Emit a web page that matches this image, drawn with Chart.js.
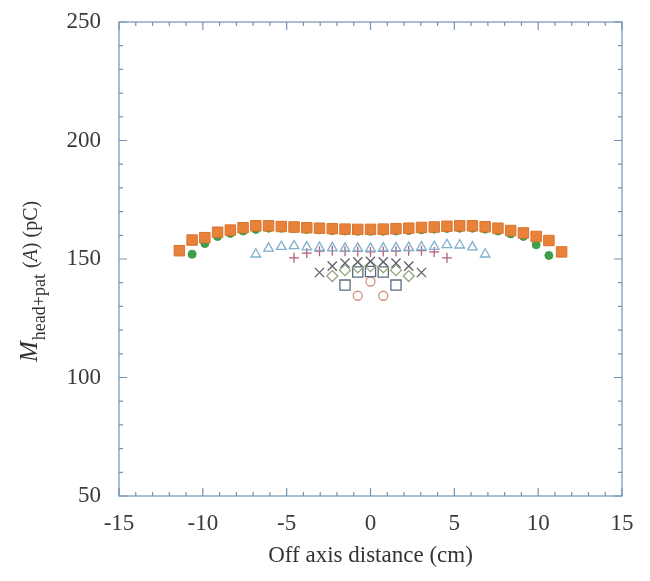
<!DOCTYPE html>
<html>
<head>
<meta charset="utf-8">
<script src="https://cdn.jsdelivr.net/npm/chart.js@4.4.0/dist/chart.umd.min.js"></script>
<style>
html,body{margin:0;padding:0;background:#fff;}
</style>
</head>
<body>
<canvas id="grafico" width="650" height="581"></canvas>
<script>
// posizioni (cm) e valori (pC)
var xQuadPieni = [-11.4,-10.64,-9.88,-9.12,-8.36,-7.6,-6.84,-6.08,-5.32,-4.56,-3.8,-3.04,-2.28,-1.52,-0.76,0,0.76,1.52,2.28,3.04,3.8,4.56,5.32,6.08,6.84,7.6,8.36,9.12,9.88,10.64,11.4];
var yQuadPieni = [153.5,158,159,161.3,162.2,163.2,164,164,163.7,163.5,163.2,163,162.8,162.6,162.5,162.5,162.6,162.8,163,163.3,163.5,163.8,164,164,163.6,163,162,161,159.5,157.8,153];

var xCerchiPieni = [-10.64,-9.88,-9.12,-8.36,-7.6,-6.84,-6.08,-5.32,-4.56,-3.8,-3.04,-2.28,-1.52,-0.76,0,0.76,1.52,2.28,3.04,3.8,4.56,5.32,6.08,6.84,7.6,8.36,9.12,9.88,10.64];
var yCerchiPieni = [152,156.5,159.5,160.8,161.8,162.5,163,163,162.8,162.5,162.3,162,161.8,161.7,161.7,161.7,161.8,162,162.3,162.6,162.9,163,163,162.6,161.8,160.6,159.5,156,151.5];

var xTriangoli = [-6.84,-6.08,-5.32,-4.56,-3.8,-3.04,-2.28,-1.52,-0.76,0,0.76,1.52,2.28,3.04,3.8,4.56,5.32,6.08,6.84];
var yTriangoli = [152,154.5,155.2,155.5,155,154.8,154.7,154.5,154.5,154.5,154.6,154.7,154.8,155,155.2,156,155.8,155,152];

var xCroci = [-4.56,-3.8,-3.04,-2.28,-1.52,-0.76,0,0.76,1.52,2.28,3.04,3.8,4.56];
var yCroci = [150.5,152.5,153.3,153.5,153.3,153.2,153,153.2,153.3,153.5,153.5,153,150.5];

var xIcs = [-3.04,-2.28,-1.52,-0.76,0,0.76,1.52,2.28,3.04];
var yIcs = [144.3,147,148.3,148.8,149,148.8,148.3,147,144.3];

var xRombi = [-2.28,-1.52,-0.76,0,0.76,1.52,2.28];
var yRombi = [142.8,145.3,146.5,147,146.5,145.3,142.8];

var xQuadVuoti = [-1.52,-0.76,0,0.76,1.52];
var yQuadVuoti = [139,144.5,144.7,144.5,139];

var xCerchiVuoti = [-0.76,0,0.76];
var yCerchiVuoti = [134.5,140.5,134.5];

var xTicks = [-15,-10,-5,0,5,10,15];
var yTicks = [50,100,150,200,250];

var coloreAssi = '#7393b5';
var fontSerif = "'Liberation Serif','DejaVu Serif',serif";

function punti(xs, ys){
    var out = [];
    for(let i=0;i<xs.length;i++){
        out.push({x: xs[i], y: ys[i]});
    }
    return out;
}

// cornice con tacche verso l'interno
var tacche = {
    id: 'tacche',
    beforeDatasetsDraw(chart){
        var ctx = chart.ctx;
        var a = chart.chartArea;
        var sx = chart.scales.x, sy = chart.scales.y;
        ctx.save();
        ctx.strokeStyle = coloreAssi;
        ctx.lineWidth = 1.2;
        ctx.strokeRect(a.left, a.top, a.right - a.left, a.bottom - a.top);
        ctx.beginPath();
        for(let v=-15; v<=15; v++){
            var px = sx.getPixelForValue(v);
            var l = (v % 5 === 0) ? 8 : 4;
            ctx.moveTo(px, a.bottom); ctx.lineTo(px, a.bottom - l);
            ctx.moveTo(px, a.top); ctx.lineTo(px, a.top + l);
        }
        for(let v=50; v<=250; v+=10){
            var py = sy.getPixelForValue(v);
            var l2 = (v % 50 === 0) ? 8 : 4;
            ctx.moveTo(a.left, py); ctx.lineTo(a.left + l2, py);
            ctx.moveTo(a.right, py); ctx.lineTo(a.right - l2, py);
        }
        ctx.stroke();
        ctx.restore();
    }
};

// titolo asse y con pedice
var titoloY = {
    id: 'titoloY',
    afterDraw(chart){
        var ctx = chart.ctx;
        ctx.save();
        ctx.translate(37, 362);
        ctx.rotate(-Math.PI/2);
        ctx.fillStyle = '#333';
        ctx.textBaseline = 'alphabetic';
        ctx.textAlign = 'left';
        var x = 0;
        ctx.font = "italic 25px " + fontSerif;
        ctx.fillText('M', x, 0);
        x += ctx.measureText('M').width + 1;
        ctx.font = "18px " + fontSerif;
        ctx.fillText('head+pat', x, 8);
        x += ctx.measureText('head+pat').width + 6;
        ctx.font = "20px " + fontSerif;
        ctx.fillText('(', x, 0);
        x += ctx.measureText('(').width;
        ctx.font = "italic 20px " + fontSerif;
        ctx.fillText('A', x, 0);
        x += ctx.measureText('A').width;
        ctx.font = "20px " + fontSerif;
        ctx.fillText(') (pC)', x, 0);
        ctx.restore();
    }
};

var serie = [
    {data: punti(xQuadPieni, yQuadPieni), pointStyle: 'rect', pointRadius: 7.4, backgroundColor: '#e8813a', borderColor: '#d9742c', borderWidth: 1},
    {data: punti(xCerchiPieni, yCerchiPieni), pointStyle: 'circle', pointRadius: 4, backgroundColor: '#3e9e4a', borderColor: '#3e9e4a', borderWidth: 1},
    {data: punti(xTriangoli, yTriangoli), pointStyle: 'triangle', pointRadius: 5.5, backgroundColor: 'rgba(0,0,0,0)', borderColor: '#7fb0cc', borderWidth: 1.3},
    {data: punti(xCroci, yCroci), pointStyle: 'cross', pointRadius: 5, backgroundColor: 'rgba(0,0,0,0)', borderColor: '#b0607a', borderWidth: 1.3},
    {data: punti(xIcs, yIcs), pointStyle: 'crossRot', pointRadius: 6.5, backgroundColor: 'rgba(0,0,0,0)', borderColor: '#5a5f6a', borderWidth: 1.3},
    {data: punti(xRombi, yRombi), pointStyle: 'rectRot', pointRadius: 5.5, backgroundColor: 'rgba(0,0,0,0)', borderColor: '#95a57a', borderWidth: 1.3},
    {data: punti(xQuadVuoti, yQuadVuoti), pointStyle: 'rect', pointRadius: 7.2, backgroundColor: 'rgba(0,0,0,0)', borderColor: '#5c6c84', borderWidth: 1.3},
    {data: punti(xCerchiVuoti, yCerchiVuoti), pointStyle: 'circle', pointRadius: 4.5, backgroundColor: 'rgba(0,0,0,0)', borderColor: '#d39282', borderWidth: 1.3}
];

var ctx = document.getElementById('grafico');
var myChart = new Chart(ctx, {
    type: 'scatter',
    data: {datasets: serie},
    options: {
        responsive: false,
        animation: false,
        layout: {padding: {top: 22, right: 28, left: 0, bottom: 0}},
        plugins: {legend: {display: false}, tooltip: {enabled: false}},
        scales: {
            x: {
                type: 'linear', min: -15, max: 15,
                afterBuildTicks: function(s){ s.ticks = xTicks.map(v => ({value: v})); },
                afterFit: function(s){ s.height = 85; s.paddingLeft = 0; s.paddingRight = 0; },
                ticks: {color: '#3a3a3a', font: {family: fontSerif, size: 23}, padding: 6, maxRotation: 0, autoSkip: false},
                grid: {display: false},
                border: {display: false},
                title: {display: true, text: 'Off axis distance (cm)', color: '#333', font: {family: fontSerif, size: 23}, padding: {top: 0, bottom: 11}}
            },
            y: {
                type: 'linear', min: 50, max: 250,
                afterBuildTicks: function(s){ s.ticks = yTicks.map(v => ({value: v})); },
                afterFit: function(s){ s.width = 119; s.paddingTop = 0; s.paddingBottom = 0; },
                ticks: {color: '#3a3a3a', font: {family: fontSerif, size: 23}, padding: 10, autoSkip: false},
                grid: {display: false},
                border: {display: false}
            }
        }
    },
    plugins: [tacche, titoloY]
});
</script>
</body>
</html>
